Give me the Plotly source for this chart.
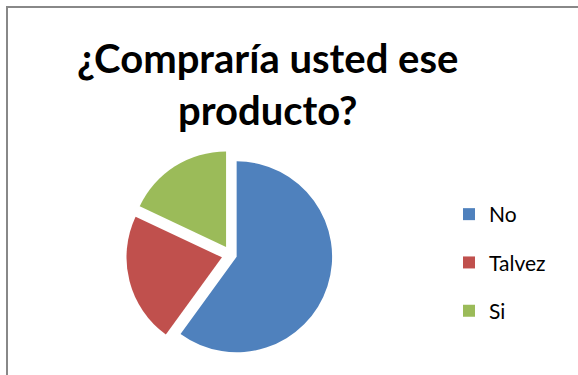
import plotly.graph_objects as go

labels = ["No", "Talvez", "Si"]
values = [60, 22, 18]
colors = ["#4F81BD", "#C0504D", "#9BBB59"]
title_text = "¿Compraría usted ese<br>producto?"

W, H = 578, 375
fig = go.Figure()
fig.add_trace(go.Pie(
    labels=labels, values=values, sort=False, direction="clockwise", rotation=0,
    marker=dict(colors=colors, line=dict(width=0)),
    pull=[0.06, 0.1, 0.1], textinfo="none", hoverinfo="label+percent",
    showlegend=False,
    domain=dict(x=[0.1, 0.7], y=[0.04, 0.6]),
))
for i, (lab, col) in enumerate(zip(labels, colors)):
    fig.add_trace(go.Scatter(
        x=[None], y=[None], mode="markers", name=lab, legendgroup=f"g{i}",
        marker=dict(symbol="square", size=13, color=col),
    ))

fig.update_layout(
    width=W, height=H,
    margin=dict(l=0, r=0, t=0, b=0),
    paper_bgcolor="white", plot_bgcolor="white",
    xaxis=dict(visible=False), yaxis=dict(visible=False),
    annotations=[dict(text=title_text, x=0.462, xanchor="center", y=1 - 32 / H, yanchor="top",
                      xref="paper", yref="paper", showarrow=False,
                      font=dict(family="Lato", size=40, color="black", weight="bold"))],
    legend=dict(x=449 / W, y=1 - 194 / H, xanchor="left", yanchor="top",
                font=dict(family="Lato", size=21, color="black"),
                tracegroupgap=18, itemsizing="constant", bgcolor="rgba(0,0,0,0)"),
    shapes=[dict(type="rect", xref="paper", yref="paper",
                 x0=7 / W, x1=1.05, y0=-0.05, y1=1 - 7 / H,
                 line=dict(color="#888888", width=2), fillcolor="rgba(0,0,0,0)", layer="below")],
)
fig.write_html("out.html")
